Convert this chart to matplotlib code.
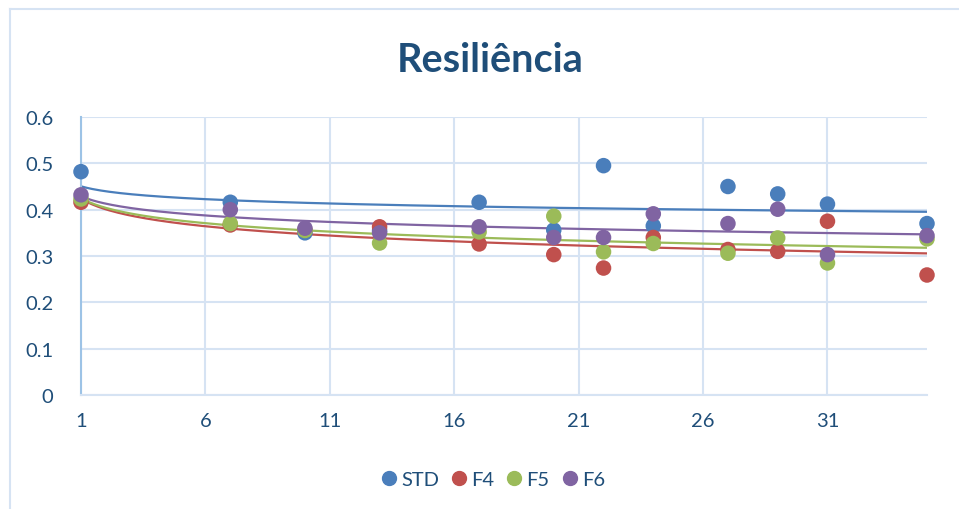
import numpy as np
import matplotlib.pyplot as plt
from matplotlib.lines import Line2D

# dados
x = [1, 7, 10, 13, 17, 20, 22, 24, 27, 29, 31, 35]
std = [0.482, 0.416, 0.350, 0.355, 0.416, 0.356, 0.495, 0.365, 0.450, 0.434, 0.412, 0.370]
f4 = [0.416, 0.367, 0.356, 0.363, 0.326, 0.303, 0.274, 0.340, 0.314, 0.310, 0.375, 0.259]
f5 = [0.423, 0.370, 0.355, 0.328, 0.352, 0.386, 0.309, 0.327, 0.306, 0.339, 0.285, 0.337]
f6 = [0.432, 0.400, 0.360, 0.350, 0.363, 0.340, 0.340, 0.391, 0.370, 0.401, 0.303, 0.344]

series = [('STD', std, '#4A7EBB'), ('F4', f4, '#C0504D'),
          ('F5', f5, '#9BBB59'), ('F6', f6, '#8064A2')]

txt = '#1F4E79'
plt.rcParams['font.family'] = ['Lato', 'DejaVu Sans']

fig = plt.figure(figsize=(9.59, 5.10), dpi=100)
ax = fig.add_axes([81/959, 114/510, (927-81)/959, (396-118)/510])

xs = np.array(x, dtype=float)
xx = np.linspace(1, 35, 300)
for name, vals, c in series:
    ax.scatter(x, vals, s=125, color=c, zorder=3, edgecolors='none', clip_on=False)
    # linha de tendência logarítmica (como no Excel)
    b, a = np.polyfit(np.log(xs), np.array(vals), 1)
    ax.plot(xx, a + b*np.log(xx), color=c, lw=1.6, zorder=2)

ax.set_xlim(1, 35)
ax.set_ylim(0, 0.6)
ax.set_xticks([1, 6, 11, 16, 21, 26, 31])
ax.set_yticks([0, 0.1, 0.2, 0.3, 0.4, 0.5, 0.6])
ax.set_yticklabels(['0', '0.1', '0.2', '0.3', '0.4', '0.5', '0.6'])
ax.grid(True, color='#D6E3F3', lw=1.5)
ax.set_axisbelow(True)
for s in ['top', 'right']:
    ax.spines[s].set_visible(False)
ax.spines['left'].set_color('#9DC3E6')
ax.spines['left'].set_linewidth(1.5)
ax.spines['bottom'].set_color('#D6E3F3')
ax.spines['bottom'].set_linewidth(1.5)
ax.tick_params(length=0, labelsize=14.5, labelcolor=txt, pad=12)
ax.tick_params(axis='y', pad=20)

fig.text(0.511, 0.882, 'Resiliência', ha='center', va='center',
         fontsize=28.5, fontweight='bold', color=txt)

handles = [Line2D([], [], marker='o', ls='none', color=c, markersize=10, label=n)
           for n, _, c in series]
fig.legend(handles=handles, loc='center', bbox_to_anchor=(0.514, 0.058), ncol=4,
           frameon=False, fontsize=14.5, labelcolor=txt, handlelength=0.8,
           handletextpad=0.2, columnspacing=0.6)

# moldura do gráfico
fig.add_artist(Line2D([10/959, 10/959], [0, 1-10/510], color='#D6E3F3', lw=1.5))
fig.add_artist(Line2D([10/959, 1], [1-10/510, 1-10/510], color='#D6E3F3', lw=1.5))

fig.savefig('out.png', dpi=100)
